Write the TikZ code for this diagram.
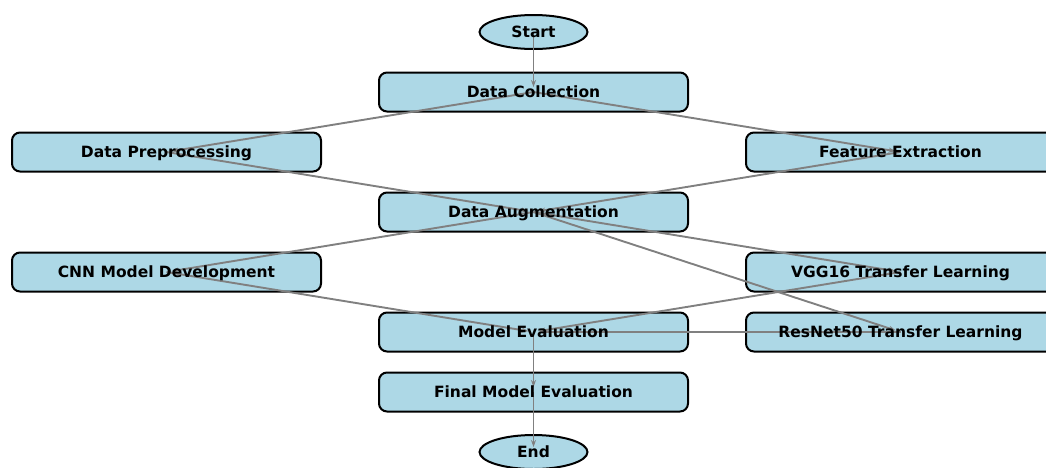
\documentclass[tikz,border=0pt]{standalone}
\usepackage{fontspec}
\setmainfont{DejaVu Sans}
\usepackage{xcolor}
\usetikzlibrary{shapes.geometric,arrows.meta}
\definecolor{boxblue}{RGB}{173,216,230}
\definecolor{edgegray}{RGB}{128,128,128}

\tikzset{
  box/.style={draw=black, line width=2pt, fill=boxblue, rounded corners=8pt,
    minimum width=309pt, minimum height=39pt, inner sep=0pt},
  oval/.style={ellipse, draw=black, line width=2pt, fill=boxblue,
    minimum width=108pt, minimum height=34pt, inner sep=0pt},
  lbl/.style={font=\fontsize{15.5}{17}\selectfont\bfseries, inner sep=0pt,
    text height=11.5pt, text depth=0.5pt},
  flow/.style={draw=edgegray, line width=1.9pt, shorten >=5pt,
    -{Stealth[length=7pt,width=5pt]}}
}

\begin{document}
\begin{tikzpicture}[x=1pt,y=-1pt]
\useasboundingbox (0,0) rectangle (1046,467);
% boxes
\node[oval] (start) at (533.5,32) {};
\node[oval] (end) at (533.5,452) {};
\foreach \n/\x/\y in {collect/533.5/92, prep/166.5/152, feat/900.5/152,
  augm/533.5/212, cnn/166.5/272, vgg/900.5/272, evalm/533.5/332,
  resnet/900.5/332, final/533.5/392}{
\node[box] (\n) at (\x,\y) {};}
% edges
\foreach \a/\b in {start/collect, collect/prep, collect/feat, prep/augm,
  feat/augm, augm/cnn, augm/vgg, augm/resnet, cnn/evalm, vgg/evalm,
  resnet/evalm, evalm/final, final/end}{
\draw[flow] (\a.center) -- (\b.center);}
% texts
\foreach \n/\t in {start/Start, end/End, collect/Data Collection,
  prep/Data Preprocessing, feat/Feature Extraction, augm/Data Augmentation,
  cnn/CNN Model Development, vgg/VGG16 Transfer Learning,
  evalm/Model Evaluation, resnet/ResNet50 Transfer Learning,
  final/Final Model Evaluation}{
\node[lbl] (\n-t) at (\n.center) {\t};}
\end{tikzpicture}
\end{document}
